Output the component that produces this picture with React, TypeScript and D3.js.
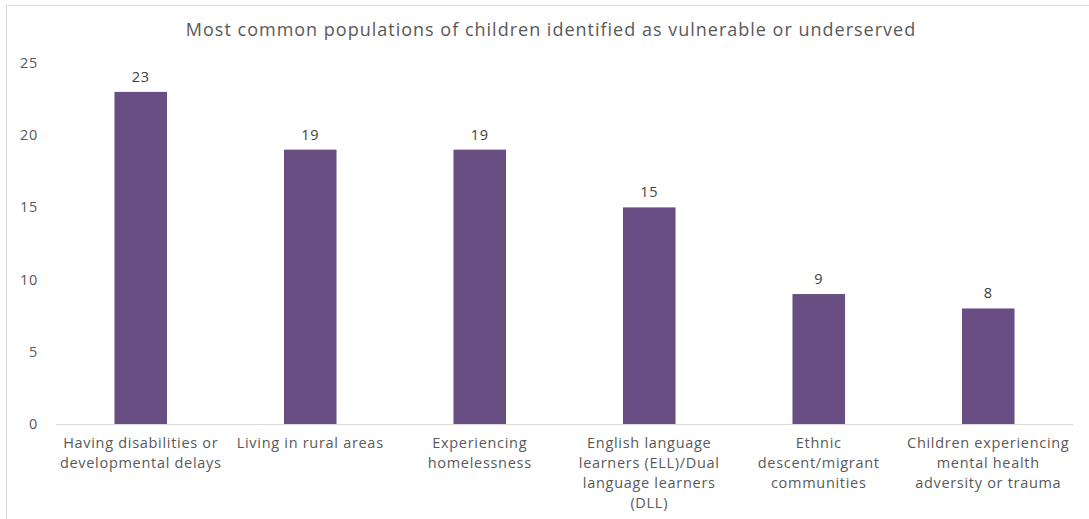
import React from "react";
import * as d3 from "d3";

const categories: string[][] = [
  ["Having disabilities or", "developmental delays"],
  ["Living in rural areas"],
  ["Experiencing", "homelessness"],
  ["English language", "learners (ELL)/Dual", "language learners", "(DLL)"],
  ["Ethnic", "descent/migrant", "communities"],
  ["Children experiencing", "mental health", "adversity or trauma"],
];
const values: number[] = [23, 19, 19, 15, 9, 8];
const yTicks: number[] = [0, 5, 10, 15, 20, 25];
const title = "Most common populations of children identified as vulnerable or underserved";

const W = 1089;
const H = 519;
const FONT = "'Open Sans', 'DejaVu Sans', sans-serif";

export default function App() {
  const x = d3
    .scaleBand<number>()
    .domain(d3.range(values.length))
    .range([56, 1073])
    .paddingInner(0.69)
    .paddingOuter(0.345);
  const y = d3.scaleLinear().domain([0, 25]).range([424, 63]);

  return (
    <svg
      width={W}
      height={H}
      style={{ position: "absolute", left: 0, top: 0, background: "#fff" }}
      fontFamily={FONT}
    >
      <rect x={0} y={0} width={W} height={H} fill="#fff" />
      <line x1={6} y1={5.5} x2={W} y2={5.5} stroke="#d9d9d9" />
      <line x1={6.5} y1={5} x2={6.5} y2={H} stroke="#d9d9d9" />
      <text
        x={551}
        y={36}
        textAnchor="middle"
        fontSize={18}
        letterSpacing={1}
        fill="#595959"
      >
        {title}
      </text>
      {yTicks.map((t) => (
        <text
          key={t}
          x={38}
          y={y(t) + 5}
          textAnchor="end"
          fontSize={14.5}
          letterSpacing={0.7}
          fill="#595959"
        >
          {t}
        </text>
      ))}
      <line x1={56} x2={1073} y1={424.5} y2={424.5} stroke="#d9d9d9" />
      {values.map((v, i) => (
        <g key={i}>
          <rect
            x={x(i)}
            y={y(v)}
            width={x.bandwidth()}
            height={y(0) - y(v)}
            fill="#684E82"
          />
          <text
            x={(x(i) as number) + x.bandwidth() / 2}
            y={y(v) - 10}
            textAnchor="middle"
            fontSize={14.5}
            letterSpacing={0.7}
            fill="#404040"
          >
            {v}
          </text>
          {categories[i].map((line, j) => (
            <text
              key={j}
              x={(x(i) as number) + x.bandwidth() / 2}
              y={448 + j * 20}
              textAnchor="middle"
              fontSize={14.5}
              letterSpacing={0.7}
              fill="#595959"
            >
              {line}
            </text>
          ))}
        </g>
      ))}
    </svg>
  );
}
